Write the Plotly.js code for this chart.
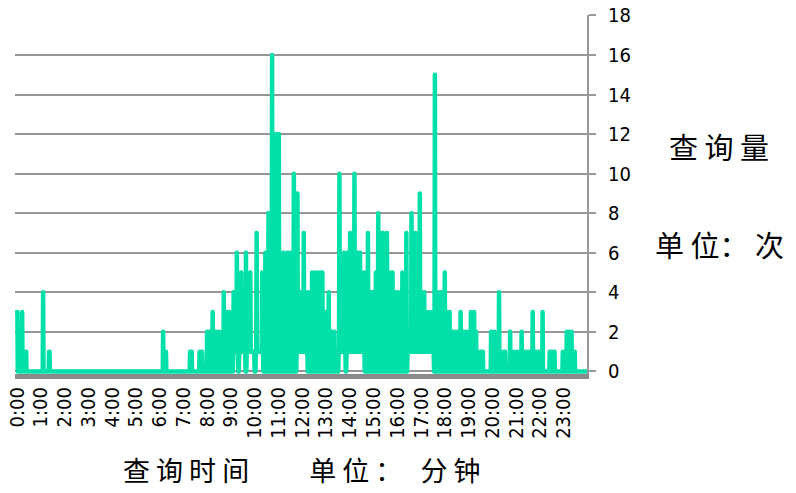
<!DOCTYPE html>
<html>
<head>
<meta charset="utf-8">
<script src="https://cdn.plot.ly/plotly-3.0.1.min.js"></script>
<style>
  html, body { margin: 0; padding: 0; background: #ffffff; }
  #chart { width: 796px; height: 493px; }
</style>
</head>
<body>
<div id="chart"></div>
<script>
// X tick labels (one per hour) on a per-minute axis
const tickLabels = ["0:00","1:00","2:00","3:00","4:00","5:00","6:00","7:00","8:00","9:00","10:00","11:00",
                    "12:00","13:00","14:00","15:00","16:00","17:00","18:00","19:00","20:00","21:00","22:00","23:00"];
const tickMinutes = [0,60,120,180,240,300,360,420,480,540,600,660,720,780,840,900,960,1020,1080,1140,1200,1260,1320,1380];
const yTicks = [0,2,4,6,8,10,12,14,16,18];

// Minutes of the day (0 = 0:00) with queries, and the query count in that minute
const peakMinutes = [0,1,13,22,23,66,81,82,369,376,437,441,461,464,467,
  480,484,494,503,510,522,529,536,547,555,566,578,589,605,619,627,635,644,655,661,667,673,683,691,699,
  708,716,724,735,745,752,759,766,771,778,787,796,801,814,826,834,841,852,861,866,876,886,892,898,906,
  912,918,924,934,942,948,956,962,973,983,996,1006,1017,1028,1036,1044,1055,1061,1068,1074,1080,1086,
  1092,1100,1107,1114,1120,1129,1136,1146,1154,1159,1164,1170,1176,1197,1205,1217,1229,1232,1245,1255,
  1263,1274,1283,1291,1302,1311,1318,1327,1345,1351,1357,1378,1388,1394,1400,1408];
const peakCounts = [3,3,3,1,1,4,1,1,2,1,1,1,1,1,1,
  2,2,3,2,2,4,3,3,4,6,5,6,5,7,5,6,8,16,12,12,6,6,6,6,10,
  9,4,7,4,5,5,5,5,5,3,4,2,2,10,6,6,7,10,6,6,5,7,4,4,5,
  8,7,7,7,5,5,4,4,5,7,8,7,9,4,3,3,15,4,4,4,5,3,
  3,2,2,2,3,2,2,3,3,2,1,1,1,2,2,4,1,1,2,1,
  1,2,1,1,3,1,1,3,1,1,1,1,2,2,2,1];

// Stretches of minutes in which at least one query came in every minute
const busyFrom = [546,561,580,603,706,812,832,986];
const busyTo   = [558,576,599,621,733,829,877,1052];

const minutes = [];
const counts = [];
for (let m = 0; m < 1440; m++) { minutes.push(m); counts.push(0); }
for (let i = 0; i < busyFrom.length; i++) {
  for (let m = busyFrom[i]; m <= busyTo[i]; m++) counts[m] = 1;
}
for (let i = 0; i < peakMinutes.length; i++) counts[peakMinutes[i]] = peakCounts[i];

const tickFont = { family: "'DejaVu Sans Condensed', 'DejaVu Sans', sans-serif", size: 20, color: '#000000' };
const cjkFont = { family: "'Noto Sans CJK SC', sans-serif", color: '#000000' };

const trace = {
  type: 'scatter',
  mode: 'lines',
  x: minutes,
  y: counts,
  line: { color: '#00E0A8', width: 4.5, simplify: false },
  hoverinfo: 'skip'
};

const layout = {
  width: 796,
  height: 493,
  margin: { l: 15, r: 209, t: 15, b: 119, pad: 0 },
  paper_bgcolor: '#ffffff',
  plot_bgcolor: '#ffffff',
  showlegend: false,
  xaxis: {
    type: 'linear',
    range: [-5.05, 1439.05],
    tickmode: 'array',
    tickvals: tickMinutes,
    ticktext: tickLabels,
    tickangle: -90,
    showgrid: false,
    zeroline: false,
    showline: true,
    linecolor: '#8a8a8a',
    linewidth: 5,
    ticks: '',
    tickfont: tickFont
  },
  yaxis: {
    side: 'right',
    range: [-0.13, 18.02],
    tickmode: 'array',
    tickvals: yTicks,
    showgrid: true,
    gridcolor: '#969696',
    gridwidth: 2,
    zeroline: false,
    showline: true,
    linecolor: '#999999',
    linewidth: 2,
    ticks: 'outside',
    ticklen: 7,
    tickwidth: 2,
    tickcolor: '#999999',
    ticklabelstandoff: 8,
    tickfont: tickFont
  },
  annotations: [
    { xref: 'paper', yref: 'paper', x: 1.2299, y: 0.6351, xanchor: 'center', yanchor: 'middle',
      text: '查\u00a0询\u00a0量', showarrow: false, font: Object.assign({ size: 29 }, cjkFont) },
    { xref: 'paper', yref: 'paper', x: 1.2325, y: 0.3621, xanchor: 'center', yanchor: 'middle',
      text: '单\u00a0位：\u00a0次', showarrow: false, font: Object.assign({ size: 29 }, cjkFont) },
    { xref: 'paper', yref: 'paper', x: 0.5, y: -0.2674, xanchor: 'center', yanchor: 'middle',
      text: '查\u00a0询\u00a0时\u00a0间\u3000\u3000\u00a0单\u00a0位\u00a0：\u00a0\u00a0\u00a0分\u00a0钟', showarrow: false,
      font: Object.assign({ size: 27 }, cjkFont) }
  ]
};

Plotly.newPlot('chart', [trace], layout, { displayModeBar: false, staticPlot: true }).then(function () {
  document.querySelectorAll('.scatterlayer path.js-line').forEach(function (p) {
    p.style.strokeLinejoin = 'round';
    p.style.strokeLinecap = 'round';
  });
});
</script>
</body>
</html>
